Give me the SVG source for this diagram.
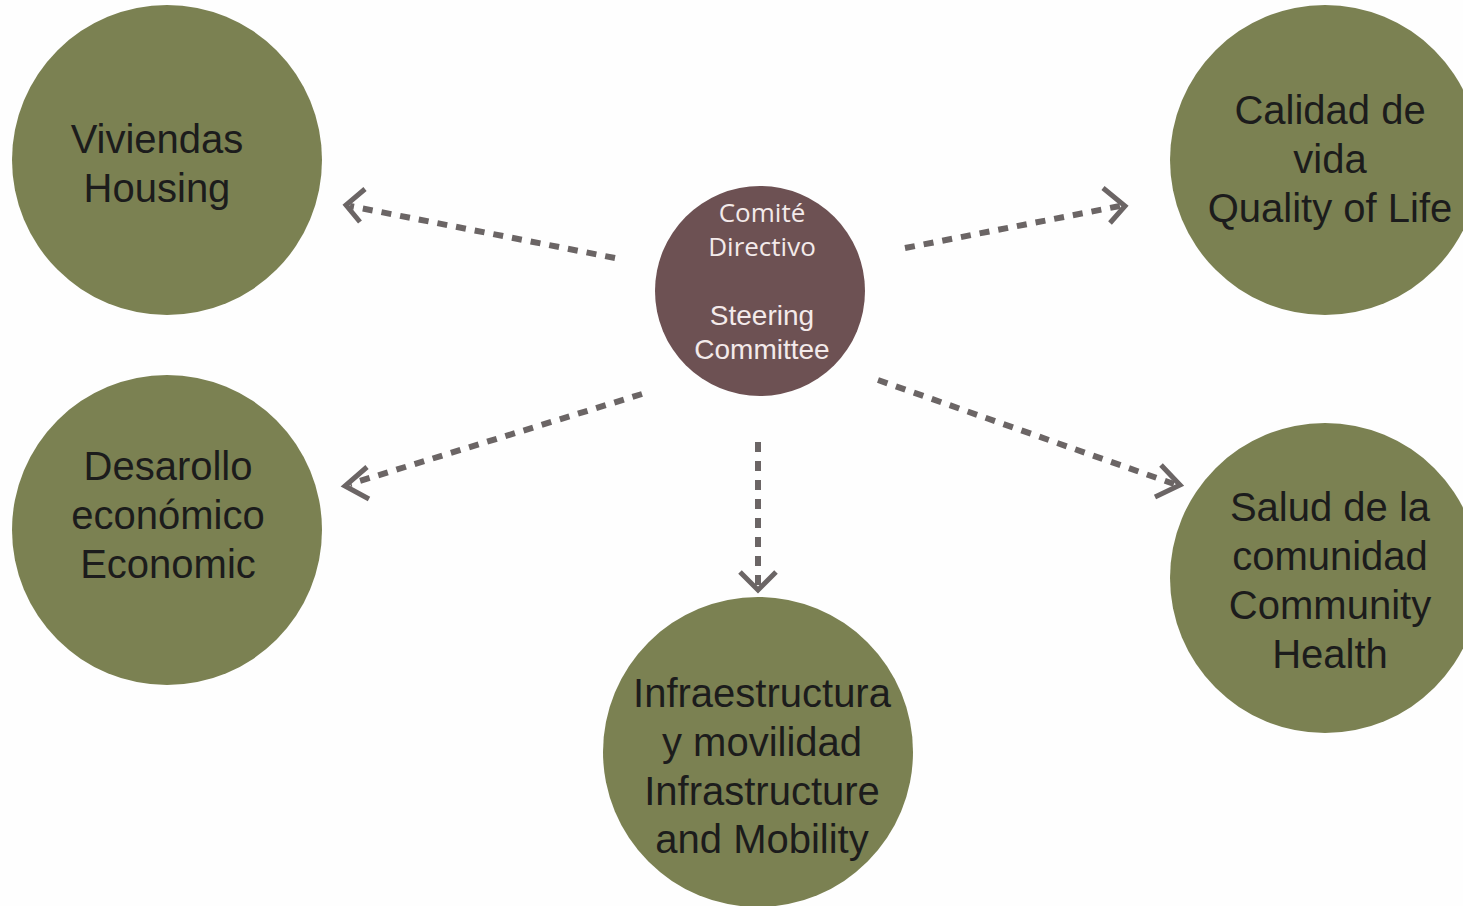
<svg xmlns="http://www.w3.org/2000/svg" width="1463" height="906" viewBox="0 0 1463 906">
<defs>
<style>
.g{fill:#7b8152}
.c{fill:#6d5153}
.t{font-family:"Liberation Sans",Arial,sans-serif;font-size:40px;fill:#1c1c1c;text-anchor:middle}
.ct{font-family:"Liberation Sans",Arial,sans-serif;font-size:28px;fill:#f3eaea;text-anchor:middle}
.co{font-family:"Open Sans",sans-serif;font-size:26px;fill:#f3eaea;text-anchor:middle}
.a{stroke:#6b6565;stroke-width:6;stroke-dasharray:10 9;fill:none}
.h{stroke:#6b6565;stroke-width:5;fill:none}
</style>
</defs>
<rect width="1463" height="906" fill="#fefefe"/>
<g id="connectors">
<path class="a" d="M615,258 L350,206"/>
<path class="h" d="M365,189 L346,205 L360,222"/>
<path class="a" d="M905,248 L1120,206"/>
<path class="h" d="M1103,188 L1125,206 L1110,223"/>
<path class="a" d="M642,394 L350,484"/>
<path class="h" d="M367,467 L345,486 L369,499"/>
<path class="a" d="M758,442 L758,585"/>
<path class="h" d="M740,572 L758,590 L776,572"/>
<path class="a" d="M878,380 L1174,484"/>
<path class="h" d="M1161,465 L1180,485 L1155,497"/>
</g>
<g id="n-center">
<circle class="c" cx="760" cy="291" r="105"/>
<text class="co" x="762" y="222">Comité</text>
<text class="co" x="762" y="256">Directivo</text>
<text class="ct" x="762" y="325">Steering</text>
<text class="ct" x="762" y="359">Committee</text>
</g>
<g id="n-housing">
<circle class="g" cx="167" cy="160" r="155"/>
<text class="t" x="157" y="153">Viviendas</text>
<text class="t" x="157" y="202">Housing</text>
</g>
<g id="n-quality">
<circle class="g" cx="1325" cy="160" r="155"/>
<text class="t" x="1330" y="124">Calidad de</text>
<text class="t" x="1330" y="173">vida</text>
<text class="t" x="1330" y="222">Quality of Life</text>
</g>
<g id="n-economic">
<circle class="g" cx="167" cy="530" r="155"/>
<text class="t" x="168" y="480">Desarollo</text>
<text class="t" x="168" y="529">económico</text>
<text class="t" x="168" y="578">Economic</text>
</g>
<g id="n-health">
<circle class="g" cx="1325" cy="578" r="155"/>
<text class="t" x="1330" y="521">Salud de la</text>
<text class="t" x="1330" y="570">comunidad</text>
<text class="t" x="1330" y="619">Community</text>
<text class="t" x="1330" y="668">Health</text>
</g>
<g id="n-infra">
<circle class="g" cx="758" cy="752" r="155"/>
<text class="t" x="762" y="707">Infraestructura</text>
<text class="t" x="762" y="756">y movilidad</text>
<text class="t" x="762" y="805">Infrastructure</text>
<text class="t" x="762" y="853">and Mobility</text>
</g>
</svg>
